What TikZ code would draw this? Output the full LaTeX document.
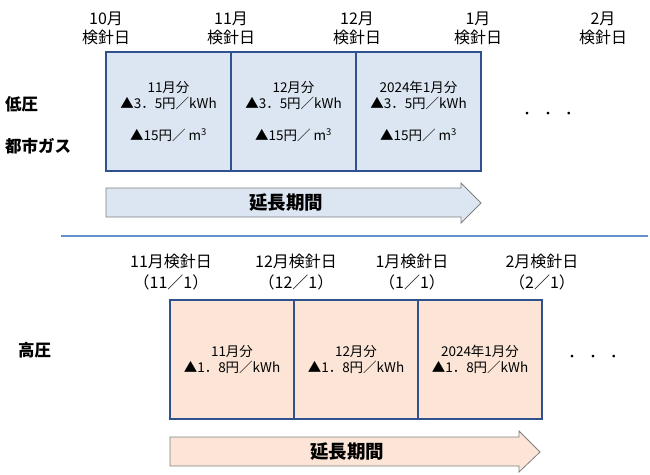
\documentclass[tikz,border=0pt]{standalone}
\usepackage{fontspec}
\setmainfont{Noto Sans CJK JP}
\usetikzlibrary{positioning}
\definecolor{boxline}{RGB}{47,82,143}
\definecolor{lowfill}{RGB}{220,230,242}
\definecolor{highfill}{RGB}{252,229,214}
\definecolor{sepline}{RGB}{100,145,205}
\definecolor{arrowline}{RGB}{127,127,127}

\begin{document}
\begin{tikzpicture}[
    x = 1pt, y = -1pt,
    month/.style = {align=center, inner sep=0pt,
      font=\fontsize{16}{19}\selectfont},
    kind/.style = {anchor=west, inner sep=0pt,
      font=\fontsize{16.5}{18}\selectfont\bfseries},
    bill/.style = {
      draw=boxline, line width=1.6pt, inner sep=0pt,
      align=center, minimum height=119pt,
      font=\fontsize{13.5}{16}\selectfont
    },
    LOW/.style = {bill, fill=lowfill, minimum width=125pt},
    HIGH/.style = {bill, fill=highfill, minimum width=124pt},
    period/.style = {draw=arrowline, line width=0.8pt},
    ext/.style = {inner sep=0pt, font=\fontsize{18.5}{20}\selectfont\bfseries},
    dots/.style = {inner sep=0pt, font=\fontsize{13}{14}\selectfont}
  ]
  \useasboundingbox (0,0) rectangle (650,474);

  % low voltage and city gas
  \node (m10) [month] at (106,28) {10月\\検針日};
  \node (m11) [month] at (231,28) {11月\\検針日};
  \node (m12) [month] at (357,28) {12月\\検針日};
  \node (m01) [month] at (478,28) {1月\\検針日};
  \node (m02) [month] at (603,28) {2月\\検針日};

  \node (low) [kind] at (5,104) {低圧};
  \node (gas) [kind] at (5,146) {都市ガス};

  \node (LN) [LOW] at (168.5,111.5) {11月分\\▲3．5円／kWh\\[16pt]▲15円／ m\textsuperscript{3}};
  \node (LD) [LOW] at (293.5,111.5) {12月分\\▲3．5円／kWh\\[16pt]▲15円／ m\textsuperscript{3}};
  \node (LJ) [LOW] at (418.5,111.5) {2024年1月分\\▲3．5円／kWh\\[16pt]▲15円／ m\textsuperscript{3}};
  \node (ldots) [dots] at (548,115) {・\hspace{8pt}・\hspace{8pt}・};

  \draw [period, fill=lowfill] (106,188) -- (461,188) -- (461,183) -- (481,203)
    -- (461,223) -- (461,217) -- (106,217) -- cycle;
  \node (lext) [ext] at (286,203) {延長期間};

  \draw [sepline, line width=1.2pt] (61,236) -- (648,236);

  % high voltage
  \node (h11) [month, font=\fontsize{16}{21}\selectfont] at (171,272) {11月検針日\\（11／1）};
  \node (h12) [month, font=\fontsize{16}{21}\selectfont] at (296,272) {12月検針日\\（12／1）};
  \node (h01) [month, font=\fontsize{16}{21}\selectfont] at (412,272) {1月検針日\\（1／1）};
  \node (h02) [month, font=\fontsize{16}{21}\selectfont] at (542,272) {2月検針日\\（2／1）};

  \node (high) [kind] at (18,350) {高圧};

  \node (HN) [HIGH] at (232,359.5) {11月分\\▲1．8円／kWh};
  \node (HD) [HIGH] at (356,359.5) {12月分\\▲1．8円／kWh};
  \node (HJ) [HIGH] at (480,359.5) {2024年1月分\\▲1．8円／kWh};
  \node (hdots) [dots] at (593,358) {・\hspace{8pt}・\hspace{8pt}・};

  \draw [period, fill=highfill] (170,437) -- (519,437) -- (519,431) -- (540,452)
    -- (519,472) -- (519,466) -- (170,466) -- cycle;
  \node (hext) [ext] at (347,452) {延長期間};
\end{tikzpicture}
\end{document}
